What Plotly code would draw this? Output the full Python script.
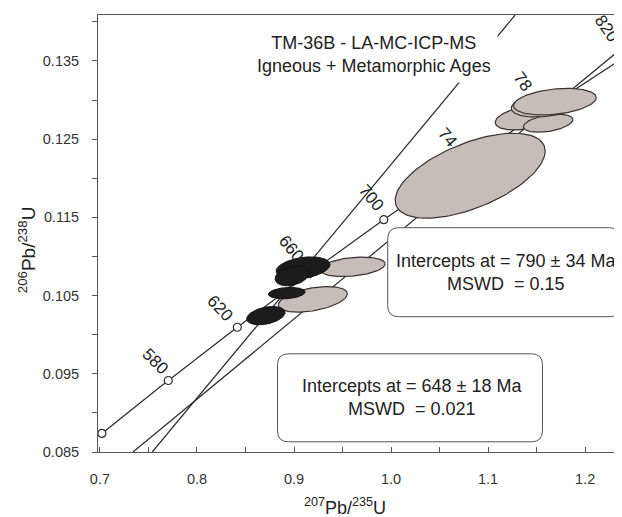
import numpy as np
import plotly.graph_objects as go

# ---------------- data ----------------
# U decay constants (1/yr) used for the concordia curve
LAMBDA_238 = 1.55125e-10
LAMBDA_235 = 9.8485e-10

concordia_start_age = 540          # Ma
concordia_end_age = 830            # Ma
concordia_marker_ages = [540, 580, 620, 660, 700, 740, 780, 820]
concordia_label_ages = [580, 620, 660, 700, 740, 780, 820]
concordia_label_text = ["580", "620", "660", "700", "74", "78", "820"]

# discordia lines (207Pb/235U, 206Pb/238U)
metamorphic_line_x = [0.7539, 1.1279]
metamorphic_line_y = [0.0850, 0.14088]
igneous_line_x = [0.7341, 1.2500]
igneous_line_y = [0.0850, 0.13789]

# grey (igneous) error ellipses: centre, half extents, correlation
grey_cx = [1.0815, 1.1403, 1.1619, 1.1619, 1.1688, 0.9604, 0.9194]
grey_cy = [0.12033, 0.12778, 0.12704, 0.12957, 0.12980, 0.10868, 0.10452]
grey_ax = [0.0773, 0.0330, 0.0255, 0.0380, 0.0426, 0.0335, 0.0356]
grey_ay = [0.00543, 0.00160, 0.00115, 0.00173, 0.00170, 0.00124, 0.00164]
grey_rho = [0.58, 0.40, 0.40, 0.35, 0.30, 0.30, 0.43]

# black (metamorphic) error ellipses
black_cx = [0.9093, 0.8980, 0.8925, 0.8710]
black_cy = [0.10855, 0.10753, 0.10532, 0.10244]
black_ax = [0.0278, 0.0175, 0.0189, 0.0198]
black_ay = [0.00140, 0.00128, 0.00073, 0.00117]
black_rho = [0.30, 0.30, 0.20, 0.35]

x_tick_values = [0.7, 0.8, 0.9, 1.0, 1.1, 1.2]
y_tick_values = [0.085, 0.095, 0.105, 0.115, 0.125, 0.135]

title_text = "TM-36B - LA-MC-ICP-MS<br>Igneous + Metamorphic Ages"
box1_text = "Intercepts at = 790 ± 34 Ma<br>MSWD&nbsp; = 0.15"
box2_text = "Intercepts at = 648 ± 18 Ma<br>MSWD&nbsp; = 0.021"

# ---------------- styles / layout constants ----------------
# the page body has an 8 px margin, so the figure is 8 px smaller each way
W, H = 614, 509
ML, MR, MT, MB = 90, 0, 7, 65
X_RANGE = [0.698, 1.238]
Y_RANGE = [0.085, 0.14088]
PX_PER_X = (W - ML - MR) / (X_RANGE[1] - X_RANGE[0])
FONT = "Liberation Sans, Arial, sans-serif"
GREY_FILL = "#c5bdb9"
BLACK_FILL = "#1c1c1c"
OUTLINE = "#3a3230"
LINE_COL = "#2b2b2b"
# label offsets from their concordia point (px right, px down) and angles
label_offsets = [(-13, -19), (-17, -19), (-18, -25), (-13, -22), (-14, -28), (-20, -29), (-20, -27)]
label_angles = [45, 47, 50, 50, 50, 54, 56]


def concordia(t_ma):
    t = np.asarray(t_ma, dtype=float) * 1e6
    return np.exp(LAMBDA_235 * t) - 1.0, np.exp(LAMBDA_238 * t) - 1.0


def ellipse(cx, cy, ax, ay, rho, n=120):
    th = np.linspace(0, 2 * np.pi, n)
    x = cx + ax * np.cos(th)
    y = cy + ay * (rho * np.cos(th) + np.sqrt(1 - rho ** 2) * np.sin(th))
    return x, y


fig = go.Figure()

# concordia curve
ages = np.arange(concordia_start_age, concordia_end_age + 1, 1)
cx_curve, cy_curve = concordia(ages)
fig.add_trace(go.Scatter(x=cx_curve, y=cy_curve, mode="lines",
                         line=dict(color=LINE_COL, width=1.2), hoverinfo="skip"))

# discordia lines
for lx, ly in [(metamorphic_line_x, metamorphic_line_y), (igneous_line_x, igneous_line_y)]:
    fig.add_trace(go.Scatter(x=lx, y=ly, mode="lines",
                             line=dict(color=LINE_COL, width=1.2), hoverinfo="skip"))

# concordia age markers
mx, my = concordia(concordia_marker_ages)
fig.add_trace(go.Scatter(x=mx, y=my, mode="markers", cliponaxis=False,
                         marker=dict(symbol="circle", size=8, color="white",
                                     line=dict(color=LINE_COL, width=1.2)),
                         hoverinfo="skip"))

# grey ellipses
for i in range(len(grey_cx)):
    ex, ey = ellipse(grey_cx[i], grey_cy[i], grey_ax[i], grey_ay[i], grey_rho[i])
    fig.add_trace(go.Scatter(x=ex, y=ey, mode="lines", fill="toself",
                             fillcolor=GREY_FILL, line=dict(color=OUTLINE, width=1.2),
                             hoverinfo="skip"))

# black ellipses
for i in range(len(black_cx)):
    ex, ey = ellipse(black_cx[i], black_cy[i], black_ax[i], black_ay[i], black_rho[i])
    fig.add_trace(go.Scatter(x=ex, y=ey, mode="lines", fill="toself",
                             fillcolor=BLACK_FILL, line=dict(color="#111111", width=1.0),
                             hoverinfo="skip"))

annotations = []
lx, ly = concordia(concordia_label_ages)
for i, txt in enumerate(concordia_label_text):
    dx, dy = label_offsets[i]
    ax_ = min(lx[i], X_RANGE[1] - 0.002)
    dx += (lx[i] - ax_) * PX_PER_X
    annotations.append(dict(x=ax_, y=ly[i], xref="x", yref="y", text=txt,
                            showarrow=False, xshift=dx, yshift=-dy,
                            textangle=label_angles[i],
                            font=dict(family=FONT, size=17, color="#222")))

# title with white background
annotations.append(dict(x=0.9825, y=0.13585, xref="x", yref="y", text=title_text,
                        showarrow=False, bgcolor="white", borderpad=6,
                        font=dict(family=FONT, size=18, color="#222")))


def rounded_box(w, h, r):
    a, b = w / 2.0, h / 2.0
    return (f"M {-a + r},{-b} L {a - r},{-b} Q {a},{-b} {a},{-b + r} "
            f"L {a},{b - r} Q {a},{b} {a - r},{b} L {-a + r},{b} "
            f"Q {-a},{b} {-a},{b - r} L {-a},{-b + r} Q {-a},{-b} {-a + r},{-b} Z")


boxes = [
    (1.1166, 0.10799, 233, 89, box1_text),
    (1.0195, 0.09193, 265, 88, box2_text),
]
shapes = []
for bx, by, bw, bh, btxt in boxes:
    shapes.append(dict(type="path", xref="x", yref="y", xsizemode="pixel", ysizemode="pixel",
                       xanchor=bx, yanchor=by, path=rounded_box(bw, bh, 11),
                       fillcolor="white", line=dict(color="#555", width=1), layer="above"))
    annotations.append(dict(x=bx, y=by, xref="x", yref="y", text=btxt, showarrow=False,
                            xshift=2,
                            font=dict(family=FONT, size=18, color="#222")))

# axis titles
annotations.append(dict(x=0.9525, y=0, xref="x", yref="paper", yshift=-54,
                        xanchor="center", yanchor="middle",
                        text="<sup>207</sup>Pb/<sup>235</sup>U", showarrow=False,
                        font=dict(family=FONT, size=18, color="#222")))
annotations.append(dict(x=0, y=0.1108, xref="paper", yref="y", xshift=-71,
                        xanchor="center", yanchor="middle",
                        text="<sup>206</sup>Pb/<sup>238</sup>U", showarrow=False,
                        textangle=-90, font=dict(family=FONT, size=19, color="#222")))

fig.update_layout(
    width=W, height=H, margin=dict(l=ML, r=MR, t=MT, b=MB),
    paper_bgcolor="white", plot_bgcolor="white", showlegend=False,
    annotations=annotations, shapes=shapes,
    xaxis=dict(range=X_RANGE, tickvals=x_tick_values, tickformat=".1f",
               ticks="inside", ticklen=5, tickcolor="#555",
               minor=dict(dtick=0.05, tick0=0.7, ticks="inside", ticklen=5, tickcolor="#555"),
               showgrid=False, zeroline=False, showline=True, linecolor="#555",
               linewidth=1, mirror=True, ticklabelstandoff=14,
               tickfont=dict(family=FONT, size=14.5, color="#333")),
    yaxis=dict(range=Y_RANGE, tickvals=y_tick_values, tickformat=".3f",
               ticks="outside", ticklen=5, tickcolor="#555",
               minor=dict(dtick=0.005, tick0=0.085, ticks="outside", ticklen=5, tickcolor="#555"),
               showgrid=False, zeroline=False, showline=True, linecolor="#555",
               linewidth=1, ticklabelstandoff=10,
               tickfont=dict(family=FONT, size=14.5, color="#333")),
)

fig.write_html("out.html")
